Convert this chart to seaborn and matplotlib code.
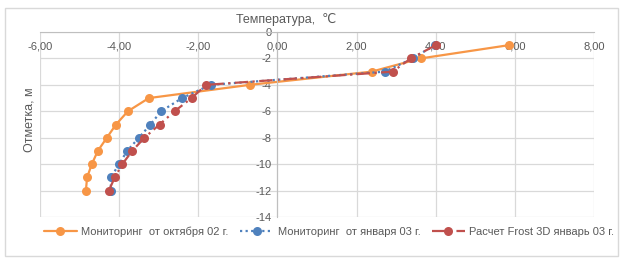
import numpy as np
import pandas as pd
import seaborn as sns
import matplotlib.pyplot as plt
from matplotlib.patches import Rectangle
from matplotlib.ticker import FuncFormatter

# Данные
depth = [-1, -2, -3, -4, -5, -6, -7, -8, -9, -10, -11, -12]
t_oct02 = [5.84, 3.62, 2.38, -0.70, -3.25, -3.78, -4.08, -4.31, -4.54, -4.69, -4.81, -4.84]
t_jan03 = [3.97, 3.42, 2.71, -1.69, -2.41, -2.94, -3.21, -3.50, -3.80, -4.00, -4.21, -4.21]
t_frost = [4.00, 3.37, 2.91, -1.80, -2.17, -2.60, -2.98, -3.36, -3.67, -3.92, -4.11, -4.26]
names = ["Мониторинг  от октября 02 г.", "Мониторинг  от января 03 г.", "Расчет Frost 3D январь 03 г."]

sns.set_style("white")
plt.rcParams['font.family'] = ['Liberation Sans', 'DejaVu Sans']
txt = '#595959'

fig = plt.figure(figsize=(6.24, 2.6), dpi=100)
ax = fig.add_axes([40/624, 1 - 217/260, 554/624, 185/260])

series = [
    (t_oct02, '#F79646', '-'),
    (t_jan03, '#4F81BD', (0, (1, 1.5))),
    (t_frost, '#C0504D', (0, (6, 2, 1, 2))),
]
for (vals, col, ls), name in zip(series, names):
    df = pd.DataFrame({"T": vals, "H": depth})
    sns.lineplot(data=df, x="T", y="H", sort=False, estimator=None, ax=ax,
                 color=col, linestyle=ls, linewidth=1.6, marker='o',
                 markersize=6.5, markeredgewidth=0, label=name)

ax.set_xlim(-6, 8)
ax.set_ylim(-14, 0)
ax.set_xticks(np.arange(-6, 8.1, 2))
ax.set_yticks(np.arange(-14, 0.1, 2))
ax.xaxis.set_major_formatter(FuncFormatter(lambda v, p: f"{v:.2f}".replace('.', ',')))
ax.yaxis.set_major_formatter(FuncFormatter(lambda v, p: f"{v:.0f}"))
ax.grid(True, color='#D9D9D9', linewidth=0.9)
for s in ['top', 'right']:
    ax.spines[s].set_visible(False)
ax.spines['bottom'].set_position(('data', 0))
ax.spines['left'].set_position(('data', 0))
for s in ['bottom', 'left']:
    ax.spines[s].set_color('#BFBFBF')
ax.tick_params(length=0, labelsize=8, labelcolor=txt)
ax.tick_params(axis='x', pad=6.5)
ax.tick_params(axis='y', pad=4)
ax.set_xlabel("")
ax.set_ylabel("")
ax.legend_.remove()

fig.text(286/624, 1 - 20/260, "Температура,  ℃", ha='center', va='center',
         fontsize=9, color=txt, family=['Liberation Sans', 'DejaVu Sans'])
fig.text(30/624, 1 - 120/260, "Отметка, м", ha='center', va='center',
         rotation=90, fontsize=9, color=txt)

h, l = ax.get_legend_handles_labels()
fig.legend(h, l, loc='center', bbox_to_anchor=(329/624, 1 - 232/260), ncol=3,
           frameon=False, fontsize=8, labelcolor=txt, handlelength=3,
           columnspacing=1.0, handletextpad=0.4)

fig.patches.append(Rectangle((5/624, 4/260), 613/624, 248/260, transform=fig.transFigure,
                             fill=False, edgecolor='#D9D9D9', linewidth=1))

fig.savefig("out.png", dpi=100)
